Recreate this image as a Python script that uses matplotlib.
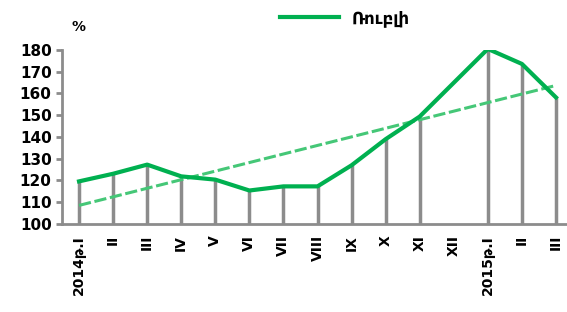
import numpy as np
import matplotlib.pyplot as plt

# Ռուբլի - ամսական տվյալներ, %
months = ['2014թ.I', 'II', 'III', 'IV', 'V', 'VI', 'VII', 'VIII',
          'IX', 'X', 'XI', 'XII', '2015թ.I', 'II', 'III']
ruble = [119.6, 123.1, 127.3, 121.9, 120.4, 115.4, 117.3, 117.3,
         127.0, 139.0, 149.4, np.nan, 180.5, 173.6, 158.2]

green = '#00B050'
gray = '#8C8C8C'

x = np.arange(len(months))
y = np.array(ruble)
ok = ~np.isnan(y)

fig = plt.figure(figsize=(5.67, 3.12), dpi=100)
ax = fig.add_axes([62/567, 88/312, 511/567, 174/312])

# lineas verticales hasta la base
ax.vlines(x[ok], 100, y[ok], color=gray, lw=2.5, zorder=1)

# serie principal
ax.plot(x[ok], y[ok], '-', color=green, lw=3, label='Ռուբլի', zorder=3)

# linea de tendencia
k, b = np.polyfit(x[ok], y[ok], 1)
ax.plot(x[[0, -1]], k*x[[0, -1]] + b, '--', color='#45C777', lw=2.2,
        dashes=(4, 1.2), zorder=2)

ax.set_xlim(-0.5, 14.5)
ax.set_ylim(100, 180)
ax.set_yticks(np.arange(100, 181, 10))
ax.set_xticks(x)
ax.set_xticklabels(months, rotation=90, fontsize=10, fontweight='bold')
for lab in ax.get_yticklabels():
    lab.set_fontweight('bold')
ax.tick_params(axis='y', labelsize=11, colors=gray, labelcolor='black',
               width=2, length=4)
ax.tick_params(axis='x', length=0, pad=8)

for s in ['top', 'right']:
    ax.spines[s].set_visible(False)
for s in ['left', 'bottom']:
    ax.spines[s].set_color(gray)
    ax.spines[s].set_linewidth(2)

fig.text(78/567, 1 - 27/312, '%', fontsize=10, fontweight='bold',
         ha='center', va='center')
ax.legend(loc='center', bbox_to_anchor=(345/567, 1 - 18/312),
          bbox_transform=fig.transFigure, frameon=False,
          prop={'weight': 'bold', 'size': 12}, handlelength=3.5)

fig.savefig('out.png', dpi=100)
